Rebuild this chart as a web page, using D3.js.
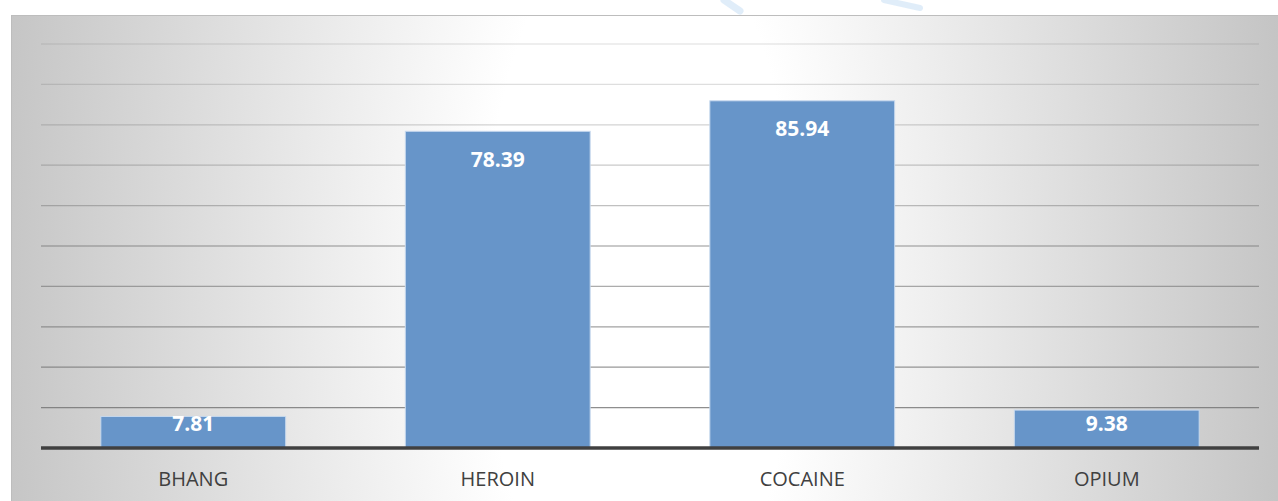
<!DOCTYPE html>
<html>
<head>
<meta charset="utf-8">
<script src="https://cdn.jsdelivr.net/npm/d3@7"></script>
<style>
  html, body { margin: 0; padding: 0; background: #ffffff; }
  svg { display: block; }
</style>
</head>
<body>
<svg id="chart" width="1278" height="501"></svg>
<script>
// Share of respondents by substance
const categories = ["BHANG", "HEROIN", "COCAINE", "OPIUM"];
const values = [7.81, 78.39, 85.94, 9.38];
const gridValues = [10, 20, 30, 40, 50, 60, 70, 80, 90, 100];

const W = 1278, H = 501;
const svg = d3.select("#chart");
const defs = svg.append("defs");

// Soft radial backdrop: white in the middle, grey towards the sides
const grad = defs.append("radialGradient")
  .attr("id", "bg")
  .attr("gradientUnits", "userSpaceOnUse")
  .attr("cx", 640).attr("cy", 280).attr("r", 650)
  .attr("fx", 640).attr("fy", 280)
  .attr("gradientTransform", "translate(640,280) scale(1,2.4) translate(-640,-280)");
grad.append("stop").attr("offset", 0).attr("stop-color", "#ffffff");
grad.append("stop").attr("offset", 0.24).attr("stop-color", "#ffffff");
grad.append("stop").attr("offset", 1).attr("stop-color", "#c4c4c4");

// Chart area frame
svg.append("rect")
  .attr("x", 11.5).attr("y", 15.5)
  .attr("width", W + 20).attr("height", H + 20)
  .attr("fill", "url(#bg)")
  .attr("stroke", "#bdbdbd")
  .attr("stroke-width", 1);

// small light-blue flourish at the top edge
const flourish = svg.append("g").attr("fill", "none").attr("stroke", "#d3e5f7").attr("stroke-linecap", "round");
flourish.append("path").attr("d", "M724,0 L740,11").attr("stroke-width", 7).attr("opacity", 0.7);
flourish.append("path").attr("d", "M884,0 L920,8").attr("stroke-width", 6).attr("opacity", 0.7);

const plot = { left: 41, right: 1259, top: 44, bottom: 448 };

const x = d3.scaleBand()
  .domain(categories)
  .range([plot.left, plot.right])
  .paddingInner(0.393)
  .paddingOuter(0.1965);

const y = d3.scaleLinear()
  .domain([0, 100])
  .range([plot.bottom, plot.top]);

// Gridlines, fading lighter towards the top
const gridOpacity = d3.scaleLinear().domain([10, 100]).range([0.78, 0.16]);
svg.append("g")
  .selectAll("line")
  .data(gridValues)
  .join("line")
  .attr("x1", plot.left).attr("x2", plot.right)
  .attr("y1", d => y(d)).attr("y2", d => y(d))
  .attr("stroke", "#6e6e6e")
  .attr("stroke-opacity", d => gridOpacity(d))
  .attr("stroke-width", 1.3);

// Bars
svg.append("g")
  .selectAll("rect")
  .data(values)
  .join("rect")
  .attr("x", (d, i) => x(categories[i]))
  .attr("y", d => y(d))
  .attr("width", x.bandwidth())
  .attr("height", d => y(0) - y(d))
  .attr("fill", "#6795c9")
  .attr("stroke", "#c6d8ee")
  .attr("stroke-width", 1);

// Category axis line
svg.append("line")
  .attr("x1", plot.left).attr("x2", plot.right)
  .attr("y1", y(0)).attr("y2", y(0))
  .attr("stroke", "#404040")
  .attr("stroke-width", 3.6);

// Category labels via a bottom axis
const xAxis = svg.append("g")
  .attr("transform", `translate(0,${y(0)})`)
  .call(d3.axisBottom(x).tickSize(0).tickPadding(0));
xAxis.select(".domain").remove();
xAxis.selectAll("text")
  .attr("y", 31)
  .attr("dy", "0.35em")
  .attr("fill", "#404040")
  .style("font-family", "'Open Sans', sans-serif")
  .style("font-size", "20px");

// Value labels inside the bars
svg.append("g")
  .selectAll("text")
  .data(values)
  .join("text")
  .attr("x", (d, i) => x(categories[i]) + x.bandwidth() / 2)
  .attr("y", d => Math.min(y(d) + 28, y(0) - 25))
  .attr("dy", "0.36em")
  .attr("text-anchor", "middle")
  .attr("fill", "#ffffff")
  .style("font-family", "'Open Sans', sans-serif")
  .style("font-weight", "bold")
  .style("font-size", "21px")
  .text(d => d.toFixed(2));
</script>
</body>
</html>
